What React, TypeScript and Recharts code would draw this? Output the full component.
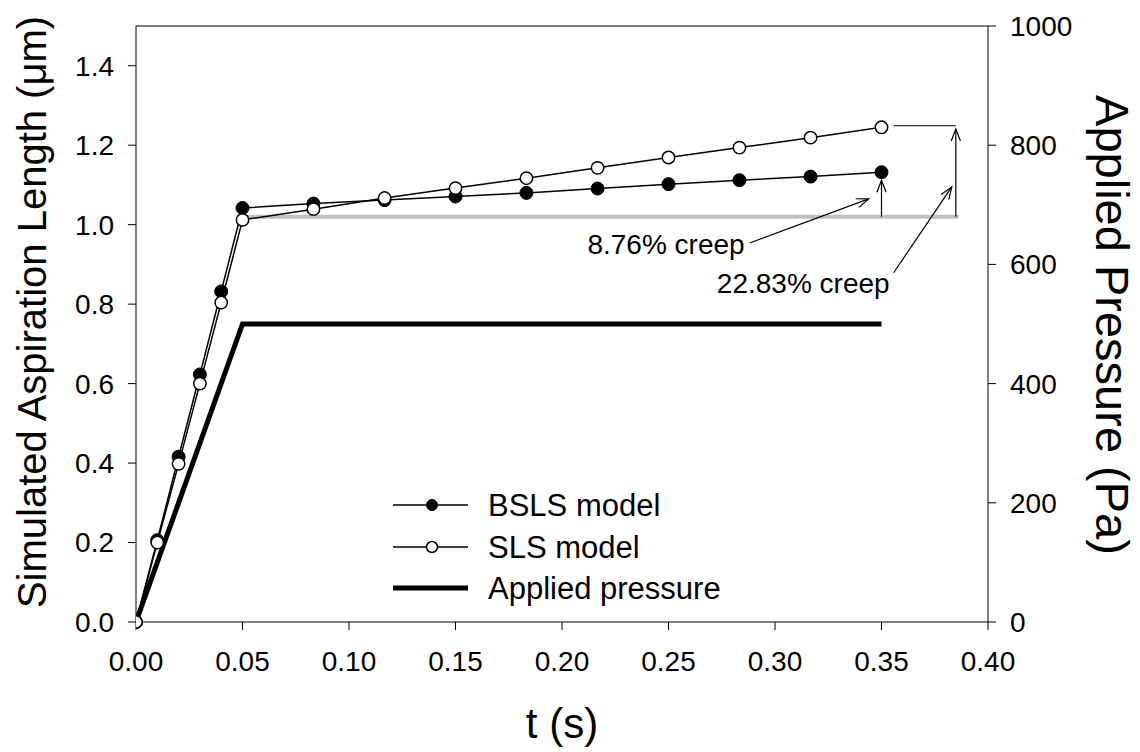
import React from 'react';
import { ComposedChart, Line, XAxis, YAxis, ReferenceLine, Legend } from 'recharts';

const FONT = '"Liberation Sans", Arial, Helvetica, sans-serif';

// ---- data ----
const modelTime = [0, 0.01, 0.02, 0.03, 0.04, 0.05, 0.0833, 0.1167, 0.15, 0.1833, 0.2167, 0.25, 0.2833, 0.3167, 0.35];
const bslsLength = [0, 0.206, 0.416, 0.623, 0.832, 1.042, 1.053, 1.062, 1.071, 1.08, 1.091, 1.102, 1.112, 1.121, 1.132];
const slsLength = [0, 0.2, 0.398, 0.6, 0.804, 1.012, 1.039, 1.067, 1.092, 1.117, 1.143, 1.169, 1.194, 1.219, 1.245];
const pressureTime = [0, 0.05, 0.35];
const pressureValue = [0, 500, 500];

const xTicks = [0, 0.05, 0.1, 0.15, 0.2, 0.25, 0.3, 0.35, 0.4];
const leftTicks = [0, 0.2, 0.4, 0.6, 0.8, 1.0, 1.2, 1.4];
const rightTicks = [0, 200, 400, 600, 800, 1000];

const legendLabels = ['BSLS model', 'SLS model', 'Applied pressure'];
const creepLabels = ['8.76% creep', '22.83% creep'];

// annotation anchors (data space)
const baseLevel = 1.02;
const baseStart = 0.05;
const baseEnd = 0.3863;
const bslsArrowT = 0.35;
const bslsArrowTop = 1.112;
const slsArrowT = 0.3849;
const slsArrowTop = 1.241;
const slsCapY = 1.249;
const slsCapStart = 0.3557;
const pointer1 = [{ x: 0.2881, y: 0.954 }, { x: 0.344, y: 1.065 }];
const pointer2 = [{ x: 0.3557, y: 0.879 }, { x: 0.383, y: 1.095 }];

const modelRows = modelTime.map((t, i) => ({ t, bsls: bslsLength[i], sls: slsLength[i] }));
const pressureRows = pressureTime.map((t, i) => ({ t, p: pressureValue[i] }));

function arrowHead(x1: number, y1: number, x2: number, y2: number, len = 13, spread = 0.36) {
  const a = Math.atan2(y2 - y1, x2 - x1);
  const p1 = [x2 - len * Math.cos(a - spread), y2 - len * Math.sin(a - spread)];
  const p2 = [x2 - len * Math.cos(a + spread), y2 - len * Math.sin(a + spread)];
  return `M${p1[0]},${p1[1]} L${x2},${y2} L${p2[0]},${p2[1]}`;
}

const makeArrow = (label?: string, ldx = 0, ldy = 0) => (p: any) => {
  const { x1, y1, x2, y2 } = p;
  return (
    <g>
      <line x1={x1} y1={y1} x2={x2} y2={y2} stroke="#000" strokeWidth={1.2} />
      <path d={arrowHead(x1, y1, x2, y2)} fill="none" stroke="#000" strokeWidth={1.2} />
      {label ? (
        <text x={x1 + ldx} y={y1 + ldy} textAnchor="end" dominantBaseline="central"
          style={{ fontFamily: FONT, fontSize: 28, fill: '#000' }}>{label}</text>
      ) : null}
    </g>
  );
};

const AxisTitle = (props: any) => {
  const { viewBox, text, offX = 0, offY = 0, rot = 0, size = 40 } = props;
  const cx = viewBox.x + viewBox.width / 2 + offX;
  const cy = viewBox.y + viewBox.height / 2 + offY;
  return (
    <text x={cx} y={cy} textAnchor="middle" dominantBaseline="central"
      transform={rot ? `rotate(${rot} ${cx} ${cy})` : undefined}
      style={{ fontFamily: FONT, fontSize: size, fill: '#000' }}>{text}</text>
  );
};

const LegendBox = () => {
  const rows = [20, 62, 103];
  return (
    <svg width={380} height={130} style={{ overflow: 'visible' }}>
      {legendLabels.map((lab, i) => (
        <g key={lab}>
          <line x1={3} y1={rows[i]} x2={78} y2={rows[i]} stroke="#000" strokeWidth={i === 2 ? 5 : 1.5} />
          {i === 0 && <circle cx={42} cy={rows[i]} r={5.5} fill="#000" stroke="#000" />}
          {i === 1 && <circle cx={42} cy={rows[i]} r={5.5} fill="#fff" stroke="#000" strokeWidth={1.5} />}
          <text x={98} y={rows[i]} dominantBaseline="central"
            style={{ fontFamily: FONT, fontSize: 31, fill: '#000' }}>{lab}</text>
        </g>
      ))}
    </svg>
  );
};

const tickStyle = { fontFamily: FONT, fontSize: 28, fill: '#000' };

export default function App() {
  return (
    <div style={{ position: 'absolute', left: 0, top: 0, width: 1140, height: 752, background: '#fff' }}>
      <ComposedChart width={1140} height={752} margin={{ top: 26, right: 0, bottom: 0, left: 0 }}>
        <XAxis type="number" dataKey="t" domain={[0, 0.4]} ticks={xTicks} allowDataOverflow
          tickFormatter={(v: number) => v.toFixed(2)} height={130}
          stroke="#000" tickSize={8} tickMargin={21} tick={tickStyle}
          label={<AxisTitle text="t (s)" offY={36} size={42} />} />
        <YAxis yAxisId="len" type="number" domain={[0, 1.5]} ticks={leftTicks} width={136}
          tickFormatter={(v: number) => v.toFixed(1)} stroke="#000" tickSize={8} tickMargin={14} tick={tickStyle}
          label={<AxisTitle text="Simulated Aspiration Length (μm)" offX={-36} offY={-12} rot={-90} size={40} />} />
        <YAxis yAxisId="p" orientation="right" type="number" domain={[0, 1000]} ticks={rightTicks} width={152}
          stroke="#000" tickSize={8} tickMargin={14} tick={tickStyle}
          label={<AxisTitle text="Applied Pressure (Pa)" offX={48} offY={1} rot={90} size={47} />} />

        <ReferenceLine yAxisId="len" y={1.5} stroke="#000" strokeWidth={1.2} />
        <ReferenceLine yAxisId="len" segment={[{ x: baseStart, y: baseLevel }, { x: baseEnd, y: baseLevel }]}
          stroke="#c0c0c0" strokeWidth={4} />

        <Line yAxisId="p" data={pressureRows} dataKey="p" name="Applied pressure" type="linear"
          stroke="#000" strokeWidth={5} dot={false} isAnimationActive={false} legendType="line" />
        <Line yAxisId="len" data={modelRows} dataKey="bsls" name="BSLS model" type="linear"
          stroke="#000" strokeWidth={1.5} dot={{ r: 6.5, fill: '#000', stroke: '#000', strokeWidth: 1 }}
          isAnimationActive={false} />
        <Line yAxisId="len" data={modelRows} dataKey="sls" name="SLS model" type="linear"
          stroke="#000" strokeWidth={1.5} dot={{ r: 6.2, fill: '#fff', stroke: '#000', strokeWidth: 1.5 }}
          isAnimationActive={false} />

        <ReferenceLine yAxisId="len" segment={[{ x: bslsArrowT, y: baseLevel }, { x: bslsArrowT, y: bslsArrowTop }]}
          shape={makeArrow()} />
        <ReferenceLine yAxisId="len" segment={[{ x: slsArrowT, y: baseLevel }, { x: slsArrowT, y: slsArrowTop }]}
          shape={makeArrow()} />
        <ReferenceLine yAxisId="len" segment={[{ x: slsCapStart, y: slsCapY }, { x: slsArrowT, y: slsCapY }]}
          stroke="#000" strokeWidth={1.2} />
        <ReferenceLine yAxisId="len" segment={pointer1} shape={makeArrow(creepLabels[0], -5, 2)} />
        <ReferenceLine yAxisId="len" segment={pointer2} shape={makeArrow(creepLabels[1], -4, 11)} />

        <Legend verticalAlign="middle" align="center" layout="horizontal"
          wrapperStyle={{ position: 'absolute', left: 390, top: 485, width: 380, height: 130 }}
          content={() => <LegendBox />} />
      </ComposedChart>
    </div>
  );
}
